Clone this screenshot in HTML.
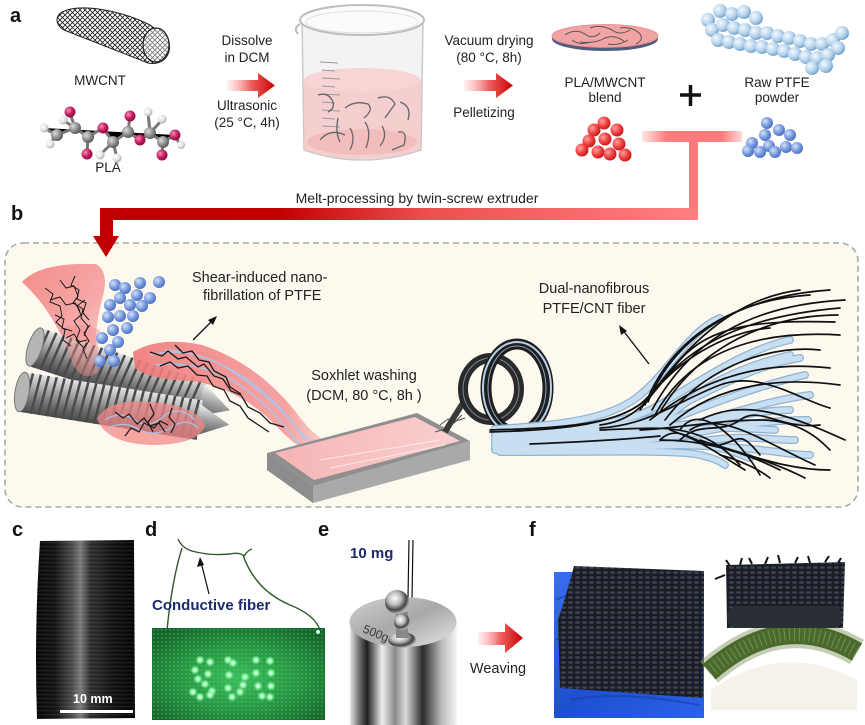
<!DOCTYPE html>
<html><head><meta charset="utf-8">
<style>
html,body{margin:0;padding:0;background:#fff;}
svg{display:block;}
text{font-family:"Liberation Sans",Arial,sans-serif;}
</style></head><body>
<svg width="865" height="725" viewBox="0 0 865 725" xmlns="http://www.w3.org/2000/svg">
<defs>
 <linearGradient id="arrowG" x1="0" x2="1" y1="0" y2="0">
  <stop offset="0" stop-color="#ffb0b0" stop-opacity="0.2"/>
  <stop offset="0.5" stop-color="#f06060"/>
  <stop offset="1" stop-color="#c80000"/>
 </linearGradient>
 <linearGradient id="barG" gradientUnits="userSpaceOnUse" x1="100" x2="697" y1="0" y2="0">
  <stop offset="0" stop-color="#c00000"/>
  <stop offset="0.3" stop-color="#c20000"/>
  <stop offset="0.55" stop-color="#ec5050"/>
  <stop offset="1" stop-color="#ff8080"/>
 </linearGradient>
 <linearGradient id="pinkBarG" x1="0" x2="1">
  <stop offset="0" stop-color="#ff8080" stop-opacity="0.2"/>
  <stop offset="0.25" stop-color="#ff7a7a"/>
  <stop offset="0.8" stop-color="#ff7a7a"/>
  <stop offset="1" stop-color="#ff8080" stop-opacity="0.3"/>
 </linearGradient>
 <radialGradient id="redBall" cx="0.35" cy="0.35" r="0.7">
  <stop offset="0" stop-color="#ffa0a0"/><stop offset="0.6" stop-color="#ee3b3b"/><stop offset="1" stop-color="#c41818"/>
 </radialGradient>
 <radialGradient id="blueBall" cx="0.35" cy="0.35" r="0.7">
  <stop offset="0" stop-color="#d4e2fa"/><stop offset="0.6" stop-color="#7396dc"/><stop offset="1" stop-color="#4a6cc0"/>
 </radialGradient>
 <radialGradient id="ptfeBall" cx="0.35" cy="0.35" r="0.7">
  <stop offset="0" stop-color="#f4f9fe"/><stop offset="0.6" stop-color="#b5d3ec"/><stop offset="1" stop-color="#6d9fc9"/>
 </radialGradient>
 <radialGradient id="grayBall" cx="0.35" cy="0.35" r="0.7">
  <stop offset="0" stop-color="#dcdcdc"/><stop offset="0.6" stop-color="#8a8a8a"/><stop offset="1" stop-color="#555"/>
 </radialGradient>
 <radialGradient id="magBall" cx="0.35" cy="0.35" r="0.7">
  <stop offset="0" stop-color="#f38ab4"/><stop offset="0.6" stop-color="#c2185b"/><stop offset="1" stop-color="#870f40"/>
 </radialGradient>
 <radialGradient id="whiteBall" cx="0.35" cy="0.35" r="0.7">
  <stop offset="0" stop-color="#fff"/><stop offset="0.6" stop-color="#e2e2e2"/><stop offset="1" stop-color="#a8a8a8"/>
 </radialGradient>
 <radialGradient id="silverBall" cx="0.4" cy="0.35" r="0.7">
  <stop offset="0" stop-color="#fff"/><stop offset="0.4" stop-color="#bbb"/><stop offset="0.7" stop-color="#444"/><stop offset="1" stop-color="#ddd"/>
 </radialGradient>
 <pattern id="mesh" width="5" height="5" patternUnits="userSpaceOnUse">
  <path d="M0,0 L5,5 M5,0 L0,5" stroke="#1a1a1a" stroke-width="0.8"/>
 </pattern>
 <linearGradient id="screwG" x1="0" x2="0" y1="0" y2="1">
  <stop offset="0" stop-color="#e4e4e4"/><stop offset="0.35" stop-color="#a9a9a9"/><stop offset="0.7" stop-color="#6e6e6e"/><stop offset="1" stop-color="#4a4a4a"/>
 </linearGradient>
 <linearGradient id="coneG" x1="0" x2="0" y1="0" y2="1">
  <stop offset="0" stop-color="#f2f2f2"/><stop offset="0.5" stop-color="#9a9a9a"/><stop offset="1" stop-color="#555"/>
 </linearGradient>
 <linearGradient id="blobG" x1="0" x2="1" y1="0" y2="1">
  <stop offset="0" stop-color="#f28080"/><stop offset="0.6" stop-color="#f5a0a0"/><stop offset="1" stop-color="#f7b8b8" stop-opacity="0.6"/>
 </linearGradient>
 <linearGradient id="strandG" x1="0" x2="1" y1="0" y2="0">
  <stop offset="0" stop-color="#f07878"/><stop offset="0.7" stop-color="#f39a9a"/><stop offset="1" stop-color="#f8c4c4" stop-opacity="0.5"/>
 </linearGradient>
 <linearGradient id="ropeG" x1="0" x2="1">
  <stop offset="0" stop-color="#070707"/><stop offset="0.2" stop-color="#161616"/><stop offset="0.36" stop-color="#4a4a4a"/><stop offset="0.45" stop-color="#7a7a7a"/><stop offset="0.55" stop-color="#2e2e2e"/><stop offset="0.8" stop-color="#101010"/><stop offset="1" stop-color="#050505"/>
 </linearGradient>
 <pattern id="ropeLines" width="6" height="4" patternUnits="userSpaceOnUse">
  <path d="M0,3 L6,2.5" stroke="#ffffff" stroke-opacity="0.13" stroke-width="0.8"/>
 </pattern>
 <radialGradient id="boardG" cx="0.5" cy="0.55" r="0.65">
  <stop offset="0" stop-color="#3bbd5c"/><stop offset="0.6" stop-color="#24913e"/><stop offset="1" stop-color="#15652a"/>
 </radialGradient>
 <pattern id="boardDots" width="4" height="4" patternUnits="userSpaceOnUse">
  <rect x="1" y="1" width="1.6" height="1.6" fill="#7fe09a" fill-opacity="0.35"/>
 </pattern>
 <radialGradient id="ledG" cx="0.5" cy="0.5" r="0.5">
  <stop offset="0" stop-color="#f0fff2"/><stop offset="0.4" stop-color="#9dffb4"/><stop offset="1" stop-color="#52e27a" stop-opacity="0"/>
 </radialGradient>
 <linearGradient id="steelG" x1="0" x2="1">
  <stop offset="0" stop-color="#e8e8e8"/><stop offset="0.08" stop-color="#777"/><stop offset="0.16" stop-color="#1e1e1e"/><stop offset="0.3" stop-color="#eeeeee"/><stop offset="0.42" stop-color="#8a8a8a"/><stop offset="0.52" stop-color="#dcdcdc"/><stop offset="0.68" stop-color="#2a2a2a"/><stop offset="0.85" stop-color="#b8b8b8"/><stop offset="1" stop-color="#f6f6f6"/>
 </linearGradient>
 <linearGradient id="steelTop" x1="0" x2="1" y1="0" y2="1">
  <stop offset="0" stop-color="#d0d0d0"/><stop offset="0.5" stop-color="#a8a8a8"/><stop offset="1" stop-color="#e6e6e6"/>
 </linearGradient>
 <linearGradient id="gloveG" x1="0" x2="1" y1="0" y2="1">
  <stop offset="0" stop-color="#3a6ef0"/><stop offset="0.5" stop-color="#1e4fd0"/><stop offset="1" stop-color="#2a62e8"/>
 </linearGradient>
 <pattern id="weave" width="7" height="5" patternUnits="userSpaceOnUse">
  <rect width="7" height="5" fill="#1a1d25"/>
  <ellipse cx="3.5" cy="2.5" rx="2.6" ry="1.3" fill="#3d4350"/>
 </pattern>
 <linearGradient id="trayTop" x1="0" x2="1">
  <stop offset="0" stop-color="#f6b4b4"/><stop offset="1" stop-color="#f9d0d0"/>
 </linearGradient>
</defs>

<rect width="865" height="725" fill="#fff"/>

<!-- ================= PANEL A ================= -->
<text x="10" y="22" font-size="20" font-weight="bold" fill="#111">a</text>

<path d="M62,12 C80,3 120,10 150,25 L168,38 C174,55 162,66 148,63 L64,30 C55,25 55,16 62,12 Z" fill="url(#mesh)" stroke="#222" stroke-width="1"/>
<ellipse cx="156" cy="45" rx="13" ry="17" fill="#fff" stroke="#222" stroke-width="1.2"/>
<ellipse cx="156" cy="45" rx="13" ry="17" fill="url(#mesh)" opacity="0.6"/>
<text x="100" y="85" font-size="13.5" text-anchor="middle" fill="#222">MWCNT</text>

<g stroke="#777" stroke-width="3">
 <path d="M44,128 L57,135 L75,128 L88,137 L103,128 L113,142 L128,132 L140,140 L150,133 L163,142 L175,135"/>
 <path d="M57,135 L50,143 M75,128 L70,113 M75,128 L63,120 M88,137 L87,153 M113,142 L100,155 M113,142 L117,158 M128,132 L130,116 M150,133 L148,112 M150,133 L162,120 M163,142 L162,154 M175,135 L180,145"/>
</g>
<g>
 <circle cx="44" cy="128" r="4.5" fill="url(#whiteBall)"/>
 <circle cx="50" cy="144" r="4.5" fill="url(#whiteBall)"/>
 <circle cx="63" cy="120" r="4.5" fill="url(#whiteBall)"/>
 <circle cx="57" cy="135" r="6" fill="url(#grayBall)"/>
 <circle cx="70" cy="112" r="5.5" fill="url(#magBall)"/>
 <circle cx="75" cy="128" r="6" fill="url(#grayBall)"/>
 <circle cx="88" cy="137" r="6" fill="url(#grayBall)"/>
 <circle cx="87" cy="154" r="5.5" fill="url(#magBall)"/>
 <circle cx="103" cy="128" r="5.5" fill="url(#magBall)"/>
 <circle cx="100" cy="155" r="4.5" fill="url(#whiteBall)"/>
 <circle cx="117" cy="158" r="4.5" fill="url(#whiteBall)"/>
 <circle cx="113" cy="142" r="6" fill="url(#grayBall)"/>
 <circle cx="130" cy="116" r="5.5" fill="url(#magBall)"/>
 <circle cx="128" cy="132" r="6" fill="url(#grayBall)"/>
 <circle cx="140" cy="140" r="5.5" fill="url(#magBall)"/>
 <circle cx="148" cy="112" r="4.5" fill="url(#whiteBall)"/>
 <circle cx="162" cy="119" r="4.5" fill="url(#whiteBall)"/>
 <circle cx="150" cy="133" r="6" fill="url(#grayBall)"/>
 <circle cx="163" cy="142" r="6" fill="url(#grayBall)"/>
 <circle cx="162" cy="155" r="5.5" fill="url(#magBall)"/>
 <circle cx="175" cy="135" r="5.5" fill="url(#magBall)"/>
 <circle cx="181" cy="145" r="4" fill="url(#whiteBall)"/>
</g>
<text x="108" y="172" font-size="13.5" text-anchor="middle" fill="#222">PLA</text>

<text x="247" y="45" font-size="13.5" text-anchor="middle" fill="#222">Dissolve</text>
<text x="247" y="62" font-size="13.5" text-anchor="middle" fill="#222">in DCM</text>
<path d="M227,80 L258,80 L258,73 L275,85.5 L258,98 L258,91 L227,91 Z" fill="url(#arrowG)"/>
<text x="247" y="110" font-size="13.5" text-anchor="middle" fill="#222">Ultrasonic</text>
<text x="247" y="127" font-size="13.5" text-anchor="middle" fill="#222">(25 °C, 4h)</text>

<!-- Beaker -->
<path d="M302,20 L304,150 Q362,170 421,150 L423,20 Z" fill="#f3f3f3" stroke="#c9c9c9" stroke-width="1.5"/>
<path d="M304,80 Q362,66 421,80 L421,150 Q362,168 304,150 Z" fill="#f5c6c6" opacity="0.8"/>
<ellipse cx="362" cy="80" rx="58" ry="12" fill="#f8d4d4"/>
<ellipse cx="362" cy="142" rx="55" ry="13" fill="#ef9c9c" opacity="0.35"/>
<ellipse cx="362" cy="20" rx="62" ry="15" fill="#fbfbfb" stroke="#bdbdbd" stroke-width="2"/>
<ellipse cx="362" cy="22" rx="56" ry="11" fill="none" stroke="#e0e0e0" stroke-width="1"/>
<path d="M300,24 Q293,28 298,34" fill="none" stroke="#bbb" stroke-width="2"/>
<g stroke="#9a9a9a" stroke-width="1">
 <path d="M320,62 L338,63 M322,70 L335,71 M322,78 L340,79 M322,86 L335,87 M322,94 L340,95 M322,102 L335,103 M322,110 L340,111 M322,118 L335,119 M322,126 L340,127"/>
</g>
<g fill="none" stroke="#666" stroke-width="1.3">
 <path d="M318,95 Q328,92 332,100 Q336,108 328,112"/>
 <path d="M345,108 Q355,100 368,104 Q374,110 364,118"/>
 <path d="M378,98 Q390,94 395,104 L385,118"/>
 <path d="M320,140 Q330,128 345,135"/>
 <path d="M350,128 Q356,138 350,150"/>
 <path d="M365,122 Q372,132 366,148"/>
 <path d="M382,126 Q388,136 380,146"/>
 <path d="M398,132 Q408,130 404,145 L392,150"/>
 <path d="M338,118 Q335,132 340,142"/>
 <path d="M400,102 Q412,106 408,120"/>
</g>

<text x="489" y="45" font-size="13.5" text-anchor="middle" fill="#222">Vacuum drying</text>
<text x="489" y="62" font-size="13.5" text-anchor="middle" fill="#222">(80 °C, 8h)</text>
<path d="M464,80 L496,80 L496,73 L513,85.5 L496,98 L496,91 L464,91 Z" fill="url(#arrowG)"/>
<text x="484" y="117" font-size="13.5" text-anchor="middle" fill="#222">Pelletizing</text>

<ellipse cx="605" cy="39" rx="53" ry="12" fill="#4e5d80"/>
<ellipse cx="605" cy="36" rx="53" ry="11.5" fill="#f2a4a4" stroke="#d88" stroke-width="0.8"/>
<g fill="none" stroke="#555" stroke-width="1">
 <path d="M565,35 Q575,28 585,34 Q592,40 600,33"/>
 <path d="M590,28 Q600,24 612,30 Q620,36 630,30"/>
 <path d="M580,42 Q595,44 605,38 Q615,34 625,42"/>
 <path d="M620,28 Q632,26 640,34 Q644,40 636,44"/>
 <path d="M572,40 Q580,46 590,42"/>
 <path d="M608,44 Q618,46 628,40"/>
</g>
<text x="605" y="87" font-size="13.5" text-anchor="middle" fill="#222">PLA/MWCNT</text>
<text x="605" y="102" font-size="13.5" text-anchor="middle" fill="#222">blend</text>

<path d="M680,95 L701,95 M690.5,85 L690.5,106" stroke="#111" stroke-width="3.5"/>

<g>
 <circle cx="708" cy="20" r="7" fill="url(#ptfeBall)"/>
 <circle cx="720" cy="11" r="7" fill="url(#ptfeBall)"/>
 <circle cx="732" cy="14" r="7" fill="url(#ptfeBall)"/>
 <circle cx="744" cy="12" r="7" fill="url(#ptfeBall)"/>
 <circle cx="756" cy="18" r="7" fill="url(#ptfeBall)"/>
 <circle cx="712" cy="30" r="7" fill="url(#ptfeBall)"/>
 <circle cx="723" cy="25" r="7" fill="url(#ptfeBall)"/>
 <circle cx="734" cy="28" r="7" fill="url(#ptfeBall)"/>
 <circle cx="745" cy="30" r="7" fill="url(#ptfeBall)"/>
 <circle cx="756" cy="33" r="7" fill="url(#ptfeBall)"/>
 <circle cx="767" cy="33" r="7" fill="url(#ptfeBall)"/>
 <circle cx="778" cy="36" r="7" fill="url(#ptfeBall)"/>
 <circle cx="789" cy="38" r="7" fill="url(#ptfeBall)"/>
 <circle cx="800" cy="41" r="7" fill="url(#ptfeBall)"/>
 <circle cx="811" cy="44" r="7" fill="url(#ptfeBall)"/>
 <circle cx="822" cy="44" r="7" fill="url(#ptfeBall)"/>
 <circle cx="833" cy="40" r="7" fill="url(#ptfeBall)"/>
 <circle cx="842" cy="33" r="7" fill="url(#ptfeBall)"/>
 <circle cx="718" cy="40" r="7" fill="url(#ptfeBall)"/>
 <circle cx="729" cy="42" r="7" fill="url(#ptfeBall)"/>
 <circle cx="740" cy="44" r="7" fill="url(#ptfeBall)"/>
 <circle cx="751" cy="46" r="7" fill="url(#ptfeBall)"/>
 <circle cx="762" cy="47" r="7" fill="url(#ptfeBall)"/>
 <circle cx="773" cy="49" r="7" fill="url(#ptfeBall)"/>
 <circle cx="784" cy="51" r="7" fill="url(#ptfeBall)"/>
 <circle cx="795" cy="54" r="7" fill="url(#ptfeBall)"/>
 <circle cx="806" cy="57" r="7" fill="url(#ptfeBall)"/>
 <circle cx="817" cy="58" r="7" fill="url(#ptfeBall)"/>
 <circle cx="828" cy="55" r="7" fill="url(#ptfeBall)"/>
 <circle cx="838" cy="48" r="7" fill="url(#ptfeBall)"/>
 <circle cx="812" cy="68" r="7" fill="url(#ptfeBall)"/>
 <circle cx="826" cy="66" r="7" fill="url(#ptfeBall)"/>
</g>
<text x="777" y="87" font-size="13.5" text-anchor="middle" fill="#222">Raw PTFE</text>
<text x="777" y="102" font-size="13.5" text-anchor="middle" fill="#222">powder</text>

<g>
 <circle cx="604" cy="123" r="6.5" fill="url(#redBall)"/>
 <circle cx="617" cy="130" r="6.5" fill="url(#redBall)"/>
 <circle cx="594" cy="130" r="6.5" fill="url(#redBall)"/>
 <circle cx="589" cy="141" r="6.5" fill="url(#redBall)"/>
 <circle cx="605" cy="139" r="6.5" fill="url(#redBall)"/>
 <circle cx="619" cy="144" r="6.5" fill="url(#redBall)"/>
 <circle cx="582" cy="150" r="6.5" fill="url(#redBall)"/>
 <circle cx="598" cy="152" r="6.5" fill="url(#redBall)"/>
 <circle cx="610" cy="154" r="6.5" fill="url(#redBall)"/>
 <circle cx="625" cy="155" r="6.5" fill="url(#redBall)"/>
</g>
<g>
 <circle cx="767" cy="123" r="6" fill="url(#blueBall)"/>
 <circle cx="779" cy="130" r="6" fill="url(#blueBall)"/>
 <circle cx="790" cy="135" r="6" fill="url(#blueBall)"/>
 <circle cx="765" cy="135" r="6" fill="url(#blueBall)"/>
 <circle cx="752" cy="143" r="6" fill="url(#blueBall)"/>
 <circle cx="769" cy="146" r="6" fill="url(#blueBall)"/>
 <circle cx="786" cy="147" r="6" fill="url(#blueBall)"/>
 <circle cx="797" cy="148" r="6" fill="url(#blueBall)"/>
 <circle cx="748" cy="151" r="6" fill="url(#blueBall)"/>
 <circle cx="760" cy="152" r="6" fill="url(#blueBall)"/>
 <circle cx="775" cy="152" r="6" fill="url(#blueBall)"/>
</g>

<rect x="642" y="131" width="100" height="11" fill="url(#pinkBarG)"/>
<rect x="689" y="136" width="9" height="84" fill="#ff7a7a"/>
<rect x="100" y="208" width="598" height="12" fill="url(#barG)"/>
<text x="417" y="203" font-size="14" text-anchor="middle" fill="#222">Melt-processing by twin-screw extruder</text>

<!-- ================= PANEL B ================= -->
<text x="11" y="220" font-size="20" font-weight="bold" fill="#111">b</text>
<rect x="5" y="243" width="853" height="264" rx="18" ry="18" fill="#fdf9ee" stroke="#a9a9a9" stroke-width="1.6" stroke-dasharray="6 4"/>
<!-- down arrow drawn over box -->
<rect x="100" y="208" width="13" height="30" fill="#c00000"/>
<path d="M93,236 L119,236 L106,257 Z" fill="#c00000"/>

<path d="M22,282 Q40,262 96,264 Q110,272 102,300 Q92,335 98,372 Q82,384 72,362 Q55,312 22,282 Z" fill="url(#blobG)" opacity="0.9"/>

<g transform="translate(35,347) rotate(18)">
 <rect x="0" y="-20" width="175" height="40" fill="url(#screwG)"/>
 <g stroke="#4a4a4a" stroke-width="2.5">
  <path d="M8,-20 L4,20 M16,-20 L12,20 M24,-20 L20,20 M32,-20 L28,20 M40,-20 L36,20 M48,-20 L44,20 M56,-20 L52,20 M64,-20 L60,20 M72,-20 L68,20 M80,-20 L76,20 M88,-20 L84,20 M96,-20 L92,20 M104,-20 L100,20 M112,-20 L108,20 M120,-20 L116,20 M128,-20 L124,20 M136,-20 L132,20 M144,-20 L140,20 M152,-20 L148,20 M160,-20 L156,20 M168,-20 L164,20"/>
 </g>
 <ellipse cx="0" cy="0" rx="7" ry="20" fill="#b5b5b5" stroke="#777"/>
 <path d="M173,-17 L205,0 L173,17 Z" fill="url(#coneG)"/>
</g>
<g transform="translate(22,392) rotate(9)">
 <rect x="0" y="-20" width="180" height="40" fill="url(#screwG)"/>
 <g stroke="#4a4a4a" stroke-width="2.5">
  <path d="M8,-20 L4,20 M16,-20 L12,20 M24,-20 L20,20 M32,-20 L28,20 M40,-20 L36,20 M48,-20 L44,20 M56,-20 L52,20 M64,-20 L60,20 M72,-20 L68,20 M80,-20 L76,20 M88,-20 L84,20 M96,-20 L92,20 M104,-20 L100,20 M112,-20 L108,20 M120,-20 L116,20 M128,-20 L124,20 M136,-20 L132,20 M144,-20 L140,20 M152,-20 L148,20 M160,-20 L156,20 M168,-20 L164,20 M176,-20 L172,20"/>
 </g>
 <ellipse cx="0" cy="0" rx="7" ry="20" fill="#b5b5b5" stroke="#777"/>
 <path d="M178,-16 L210,0 L178,16 Z" fill="url(#coneG)"/>
</g>

<path d="M60,330 Q80,320 100,330 Q96,350 98,372 Q82,384 72,362 Z" fill="#f28a8a" opacity="0.45"/>
<g fill="none" stroke="#1a1a1a" stroke-width="1">
 <path d="M45,288 l8,6 l-3,8 l10,4 l2,10 l-6,6 l9,8 l-2,10 l8,6"/>
 <path d="M60,280 l6,8 l8,-2 l4,10 l-5,7 l10,6 l-2,9 l7,8 l-4,10"/>
 <path d="M75,276 l-4,9 l8,5 l-2,9 l9,4 l-3,10 l6,7"/>
 <path d="M50,300 l10,-3 l6,8 l9,-2 l5,8"/>
 <path d="M85,300 l-8,6 l4,9 l-7,6 l6,9 l-4,10 l8,8"/>
 <path d="M55,315 l9,4 l-2,9 l10,3"/>
 <path d="M90,325 l-6,8 l5,8 l-6,8 l4,10"/>
 <path d="M66,338 l8,-4 l5,8 l8,-2"/>
</g>
<g>
 <circle cx="115" cy="285" r="6" fill="url(#blueBall)"/>
 <circle cx="125" cy="288" r="6" fill="url(#blueBall)"/>
 <circle cx="140" cy="283" r="6" fill="url(#blueBall)"/>
 <circle cx="159" cy="282" r="6" fill="url(#blueBall)"/>
 <circle cx="120" cy="298" r="6" fill="url(#blueBall)"/>
 <circle cx="137" cy="295" r="6" fill="url(#blueBall)"/>
 <circle cx="150" cy="298" r="6" fill="url(#blueBall)"/>
 <circle cx="110" cy="305" r="6" fill="url(#blueBall)"/>
 <circle cx="130" cy="305" r="6" fill="url(#blueBall)"/>
 <circle cx="142" cy="306" r="6" fill="url(#blueBall)"/>
 <circle cx="108" cy="317" r="6" fill="url(#blueBall)"/>
 <circle cx="120" cy="316" r="6" fill="url(#blueBall)"/>
 <circle cx="133" cy="316" r="6" fill="url(#blueBall)"/>
 <circle cx="113" cy="330" r="6" fill="url(#blueBall)"/>
 <circle cx="127" cy="328" r="6" fill="url(#blueBall)"/>
 <circle cx="102" cy="338" r="6" fill="url(#blueBall)"/>
 <circle cx="118" cy="342" r="6" fill="url(#blueBall)"/>
 <circle cx="110" cy="350" r="6" fill="url(#blueBall)"/>
 <circle cx="100" cy="361" r="6" fill="url(#blueBall)"/>
 <circle cx="114" cy="361" r="6" fill="url(#blueBall)"/>
</g>

<path d="M97,418 Q110,398 150,402 Q195,405 205,425 Q200,445 150,445 Q105,443 97,418 Z" fill="#f28a8a" opacity="0.75"/>
<g fill="none" stroke-width="1.2">
 <path d="M105,420 Q120,410 135,420 Q150,430 165,415 Q180,405 195,420" stroke="#a7c4ec"/>
 <path d="M108,428 Q125,420 140,430 Q158,438 175,425 Q188,418 198,428" stroke="#a7c4ec"/>
 <path d="M115,412 l8,6 l6,-4 l8,10 l7,-6 l6,8 l9,-3 l6,9" stroke="#1a1a1a"/>
 <path d="M125,436 l6,-8 l8,4 l5,-9 l10,5 l6,-7 l8,4" stroke="#1a1a1a"/>
 <path d="M150,404 l4,10 l-6,8 l5,10" stroke="#1a1a1a"/>
 <path d="M172,408 l-3,9 l6,7 l-4,9" stroke="#1a1a1a"/>
</g>

<path d="M133,352 Q160,336 202,345 Q262,365 302,420 Q322,446 352,450 L352,466 Q312,462 282,432 Q242,388 192,381 Q150,380 135,368 Z" fill="url(#strandG)" opacity="0.9"/>
<g fill="none" stroke-width="1.3">
 <path d="M150,355 Q190,345 230,370 Q270,395 300,432 Q320,452 350,456" stroke="#a9c6ee"/>
 <path d="M155,365 Q200,360 240,385 Q275,410 295,440 Q315,458 345,460" stroke="#a9c6ee"/>
 <path d="M165,350 Q205,352 245,378 Q280,402 305,440" stroke="#a9c6ee"/>
 <path d="M150,352 l12,4 l6,-5 l10,8 l8,-2 l12,10 l6,-3 l10,12 l9,3 l8,12 l10,4 l7,12 l12,6 l10,10 l14,4" stroke="#1a1a1a"/>
 <path d="M160,366 l10,-4 l8,6 l10,-2 l9,9 l10,1 l6,10 l11,4 l6,11 l10,5 l8,12 l12,8 l9,6" stroke="#1a1a1a"/>
 <path d="M175,345 l8,8 l9,-2 l7,9 l10,2 l5,9 l12,6 l4,10 l11,7" stroke="#1a1a1a"/>
</g>
<path d="M193,340 L214,319" stroke="#111" stroke-width="1.3"/>
<path d="M217,316 L208,320 L213,325 Z" fill="#111"/>
<text x="192" y="282" font-size="14.5" fill="#222">Shear-induced nano-</text>
<text x="203" y="300" font-size="14.5" fill="#222">fibrillation of PTFE</text>

<!-- tray -->
<path d="M267,453 L313,486 L313,503 L267,470 Z" fill="#8c8c8c"/>
<path d="M313,486 L470,441 L470,460 L313,503 Z" fill="#a9a9a9"/>
<path d="M267,453 L417,413 L470,441 L313,486 Z" fill="#8f8f8f"/>
<path d="M275,453 L415,417 L460,441 L314,480 Z" fill="url(#trayTop)"/>
<g fill="none" stroke="#ffffff" stroke-opacity="0.6" stroke-width="1">
 <path d="M320,460 Q350,455 380,450 Q410,445 440,440"/>
 <path d="M330,468 Q360,462 395,455 Q420,450 445,445"/>
</g>
<g fill="none" stroke="#555" stroke-width="1">
 <path d="M440,425 l8,-6 l6,4 l8,-8"/>
 <path d="M435,432 l10,-3 l8,-7 l12,-4"/>
</g>
<text x="364" y="380" font-size="14.5" text-anchor="middle" fill="#222">Soxhlet washing</text>
<text x="364" y="400" font-size="14.5" text-anchor="middle" fill="#222">(DCM, 80 °C, 8h )</text>

<!-- coils -->
<path d="M445,432 Q455,415 465,400" stroke="#3a3a3a" stroke-width="6" fill="none"/>
<ellipse cx="491" cy="389" rx="28" ry="31" fill="none" stroke="#2a2a2a" stroke-width="10"/>
<ellipse cx="491" cy="389" rx="28" ry="31" fill="none" stroke="#7a8a9a" stroke-width="1"/>
<ellipse cx="517" cy="388" rx="31" ry="44" fill="none" stroke="#1e1e1e" stroke-width="11"/>
<ellipse cx="517" cy="388" rx="34" ry="46" fill="none" stroke="#b5d1ea" stroke-width="2"/>
<ellipse cx="517" cy="388" rx="29" ry="42" fill="none" stroke="#8fa4b8" stroke-width="1"/>

<!-- fan fibers: blue -->
<g fill="none" stroke-linecap="round">
 <g stroke="#8fb3d3" stroke-width="8">
  <path d="M495,432 C560,430 620,425 650,410 S740,350 790,340"/>
  <path d="M495,436 C560,434 630,428 660,415 S750,365 800,358"/>
  <path d="M495,440 C570,438 640,432 670,420 S760,385 805,375"/>
  <path d="M495,444 C580,442 650,436 690,425 S770,400 810,395"/>
  <path d="M495,447 C590,446 660,440 700,432 S780,420 808,420"/>
  <path d="M495,450 C600,450 670,445 710,440 S770,440 795,440"/>
  <path d="M500,452 C610,452 680,450 700,455 S720,462 725,465"/>
  <path d="M500,448 C600,448 660,446 690,445 S740,455 750,458"/>
  <path d="M495,429 C560,425 610,420 640,395 S690,330 720,318"/>
  <path d="M495,438 C580,436 640,430 680,425 S760,410 790,410"/>
  <path d="M520,445 C600,444 650,438 680,432 S740,428 775,430"/>
  <path d="M560,440 C620,436 660,420 690,400 S760,365 780,362"/>
  <path d="M580,446 C640,444 700,445 740,448 S790,455 810,455"/>
  <path d="M620,440 C660,430 690,395 720,380 S770,360 790,355"/>
 </g>
 <g stroke="#c8def1" stroke-width="5.5">
  <path d="M495,432 C560,430 620,425 650,410 S740,350 790,340"/>
  <path d="M495,436 C560,434 630,428 660,415 S750,365 800,358"/>
  <path d="M495,440 C570,438 640,432 670,420 S760,385 805,375"/>
  <path d="M495,444 C580,442 650,436 690,425 S770,400 810,395"/>
  <path d="M495,447 C590,446 660,440 700,432 S780,420 808,420"/>
  <path d="M495,450 C600,450 670,445 710,440 S770,440 795,440"/>
  <path d="M500,452 C610,452 680,450 700,455 S720,462 725,465"/>
  <path d="M500,448 C600,448 660,446 690,445 S740,455 750,458"/>
  <path d="M495,429 C560,425 610,420 640,395 S690,330 720,318"/>
  <path d="M495,438 C580,436 640,430 680,425 S760,410 790,410"/>
  <path d="M520,445 C600,444 650,438 680,432 S740,428 775,430"/>
  <path d="M560,440 C620,436 660,420 690,400 S760,365 780,362"/>
  <path d="M580,446 C640,444 700,445 740,448 S790,455 810,455"/>
  <path d="M620,440 C660,430 690,395 720,380 S770,360 790,355"/>
 </g>
</g>
<!-- fan fibers: black -->
<g fill="none" stroke="#111" stroke-width="1.7" stroke-linecap="round">
 <path d="M490,430 C560,428 620,425 645,400 S700,320 840,308"/>
 <path d="M490,432 C560,430 625,425 650,395 S720,300 800,290"/>
 <path d="M600,425 C640,420 650,395 680,360 S760,320 835,322"/>
 <path d="M600,428 C650,425 680,400 720,385 S800,400 830,408"/>
 <path d="M640,430 C680,428 720,420 760,420 S820,440 830,450"/>
 <path d="M660,440 C700,440 740,450 780,470"/>
 <path d="M680,430 C700,400 740,440 760,475"/>
 <path d="M690,430 C720,410 760,440 815,465"/>
 <path d="M650,420 C700,380 760,360 830,368"/>
 <path d="M640,410 C680,350 740,330 770,328"/>
 <path d="M700,420 C740,400 780,410 845,440"/>
 <path d="M660,440 C680,420 700,450 720,445 S740,430 760,455"/>
 <path d="M600,430 C660,428 700,420 740,465"/>
 <path d="M645,405 C670,340 730,300 810,295"/>
 <path d="M655,415 C690,350 760,330 840,335"/>
 <path d="M670,430 C700,440 720,455 745,470"/>
 <path d="M700,440 C730,450 770,460 805,478"/>
 <path d="M530,444 C580,442 620,440 660,436"/>
 <path d="M648,402 C675,335 740,296 830,290"/>
 <path d="M652,410 C690,340 750,305 845,300"/>
 <path d="M660,412 C700,345 770,315 838,315"/>
 <path d="M665,420 C710,360 780,345 820,350"/>
 <path d="M670,425 C720,380 790,378 840,385"/>
 <path d="M680,440 C700,420 720,435 740,420 S780,430 820,425"/>
 <path d="M710,445 C740,450 780,470 830,470"/>
 <path d="M720,455 C740,460 760,470 770,478"/>
</g>
<path d="M649,364 L622,329" stroke="#111" stroke-width="1.3"/>
<path d="M619,325 L621,335 L627,331 Z" fill="#111"/>
<text x="594" y="293" font-size="14.5" text-anchor="middle" fill="#222">Dual-nanofibrous</text>
<text x="594" y="313" font-size="14.5" text-anchor="middle" fill="#222">PTFE/CNT fiber</text>

<!-- ================= PANEL C ================= -->
<text x="12" y="536" font-size="20" font-weight="bold" fill="#111">c</text>
<path d="M40,541 L134,540 L135,718 L37,719 Q34,630 40,541 Z" fill="url(#ropeG)"/>
<path d="M40,541 L134,540 L135,718 L37,719 Q34,630 40,541 Z" fill="url(#ropeLines)"/>
<rect x="60" y="710" width="73" height="3" fill="#fff"/>
<text x="73" y="703" font-size="12.5" font-weight="bold" fill="#fff">10 mm</text>

<!-- ================= PANEL D ================= -->
<text x="145" y="536" font-size="20" font-weight="bold" fill="#111">d</text>
<rect x="152" y="628" width="173" height="92" fill="url(#boardG)"/>
<rect x="152" y="628" width="173" height="92" fill="url(#boardDots)"/>
<circle cx="318" cy="632" r="2" fill="#cfe"/>
<g fill="none" stroke="#2f5a2a" stroke-width="1.4">
 <path d="M178,539 Q182,548 192,551 Q210,556 230,554 Q240,552 244,556 Q248,550 252,549"/>
 <path d="M182,548 Q172,580 167,630"/>
 <path d="M243,555 Q255,590 290,605 Q315,615 320,630"/>
</g>
<path d="M209,594 L201,562" stroke="#111" stroke-width="1.2"/>
<path d="M200,557 L197,567 L204,565 Z" fill="#111"/>
<text x="152" y="610" font-size="15" font-weight="bold" fill="#1c2a6b">Conductive fiber</text>
<g fill="url(#ledG)">
 <circle cx="200" cy="660" r="5"/><circle cx="210" cy="662" r="5"/><circle cx="195" cy="670" r="5"/>
 <circle cx="198" cy="679" r="5"/><circle cx="205" cy="684" r="5"/><circle cx="212" cy="691" r="5"/>
 <circle cx="210" cy="695" r="5"/><circle cx="200" cy="697" r="5"/><circle cx="193" cy="692" r="5"/>
 <circle cx="208" cy="674" r="5"/>
 <circle cx="228" cy="660" r="5"/><circle cx="233" cy="663" r="5"/><circle cx="229" cy="675" r="5"/>
 <circle cx="245" cy="677" r="5"/><circle cx="228" cy="688" r="5"/><circle cx="240" cy="692" r="5"/>
 <circle cx="232" cy="697" r="5"/><circle cx="243" cy="685" r="5"/>
 <circle cx="256" cy="660" r="5"/><circle cx="270" cy="661" r="5"/><circle cx="256" cy="673" r="5"/>
 <circle cx="271" cy="673" r="5"/><circle cx="258" cy="686" r="5"/><circle cx="271" cy="686" r="5"/>
 <circle cx="262" cy="696" r="5"/><circle cx="270" cy="697" r="5"/>
</g>

<!-- ================= PANEL E ================= -->
<text x="318" y="536" font-size="20" font-weight="bold" fill="#111">e</text>
<text x="350" y="558" font-size="15" font-weight="bold" fill="#1c2a6b">10 mg</text>
<path d="M409,540 L408,598 M413,540 L412,598" stroke="#111" stroke-width="1.2"/>
<rect x="350" y="622" width="107" height="103" fill="url(#steelG)"/>
<ellipse cx="403" cy="622" rx="53.5" ry="25" fill="url(#steelTop)"/>
<text x="0" y="0" font-size="12" fill="#3a3a3a" transform="translate(362,632) rotate(22)">500g</text>
<ellipse cx="402" cy="640" rx="14" ry="8" fill="url(#silverBall)"/>
<rect x="396" y="612" width="12" height="26" fill="#888"/>
<circle cx="402" cy="622" r="8" fill="url(#silverBall)"/>
<circle cx="397" cy="602" r="12" fill="url(#silverBall)"/>

<path d="M478,632 L505,632 L505,623 L523,638 L505,653 L505,645 L478,645 Z" fill="url(#arrowG)"/>
<text x="498" y="673" font-size="14.5" text-anchor="middle" fill="#222">Weaving</text>

<!-- ================= PANEL F ================= -->
<text x="529" y="536" font-size="20" font-weight="bold" fill="#111">f</text>
<rect x="554" y="572" width="150" height="146" fill="url(#gloveG)"/>
<g fill="none" stroke="#173ea8" stroke-width="2" opacity="0.6">
 <path d="M556,600 Q570,592 580,600"/>
 <path d="M556,640 Q570,632 582,640"/>
 <path d="M570,700 Q620,690 700,705"/>
</g>
<path d="M574,566 L704,571 L703,698 L560,688 L558,620 Q566,596 574,566 Z" fill="url(#weave)"/>

<rect x="709" y="560" width="148" height="150" fill="#fff"/>
<path d="M711,690 Q782,640 857,680 L857,710 L711,710 Z" fill="#f6f2ea"/>
<path d="M709,672 Q782,608 857,652" fill="none" stroke="#8c9c6a" stroke-width="28" opacity="0.5"/>
<path d="M709,672 Q782,608 857,652" fill="none" stroke="#4a6a2c" stroke-width="20"/>
<path d="M709,672 Q782,608 857,652" fill="none" stroke="#9fb27a" stroke-width="14" stroke-dasharray="1 4" opacity="0.5"/>
<path d="M726,565 L845,562 L843,628 L727,628 Z" fill="url(#weave)"/>
<rect x="727" y="606" width="115" height="22" rx="10" fill="#2a2e36"/>
<g stroke="#111" stroke-width="2" fill="none">
 <path d="M730,566 l-4,-6 M740,565 l2,-7 M752,564 l-3,-6 M765,564 l3,-7 M780,563 l-2,-8 M795,563 l3,-6 M810,563 l-2,-7 M825,562 l4,-6 M838,563 l3,-5 M725,575 l-10,4"/>
</g>
</svg>
</body></html>
